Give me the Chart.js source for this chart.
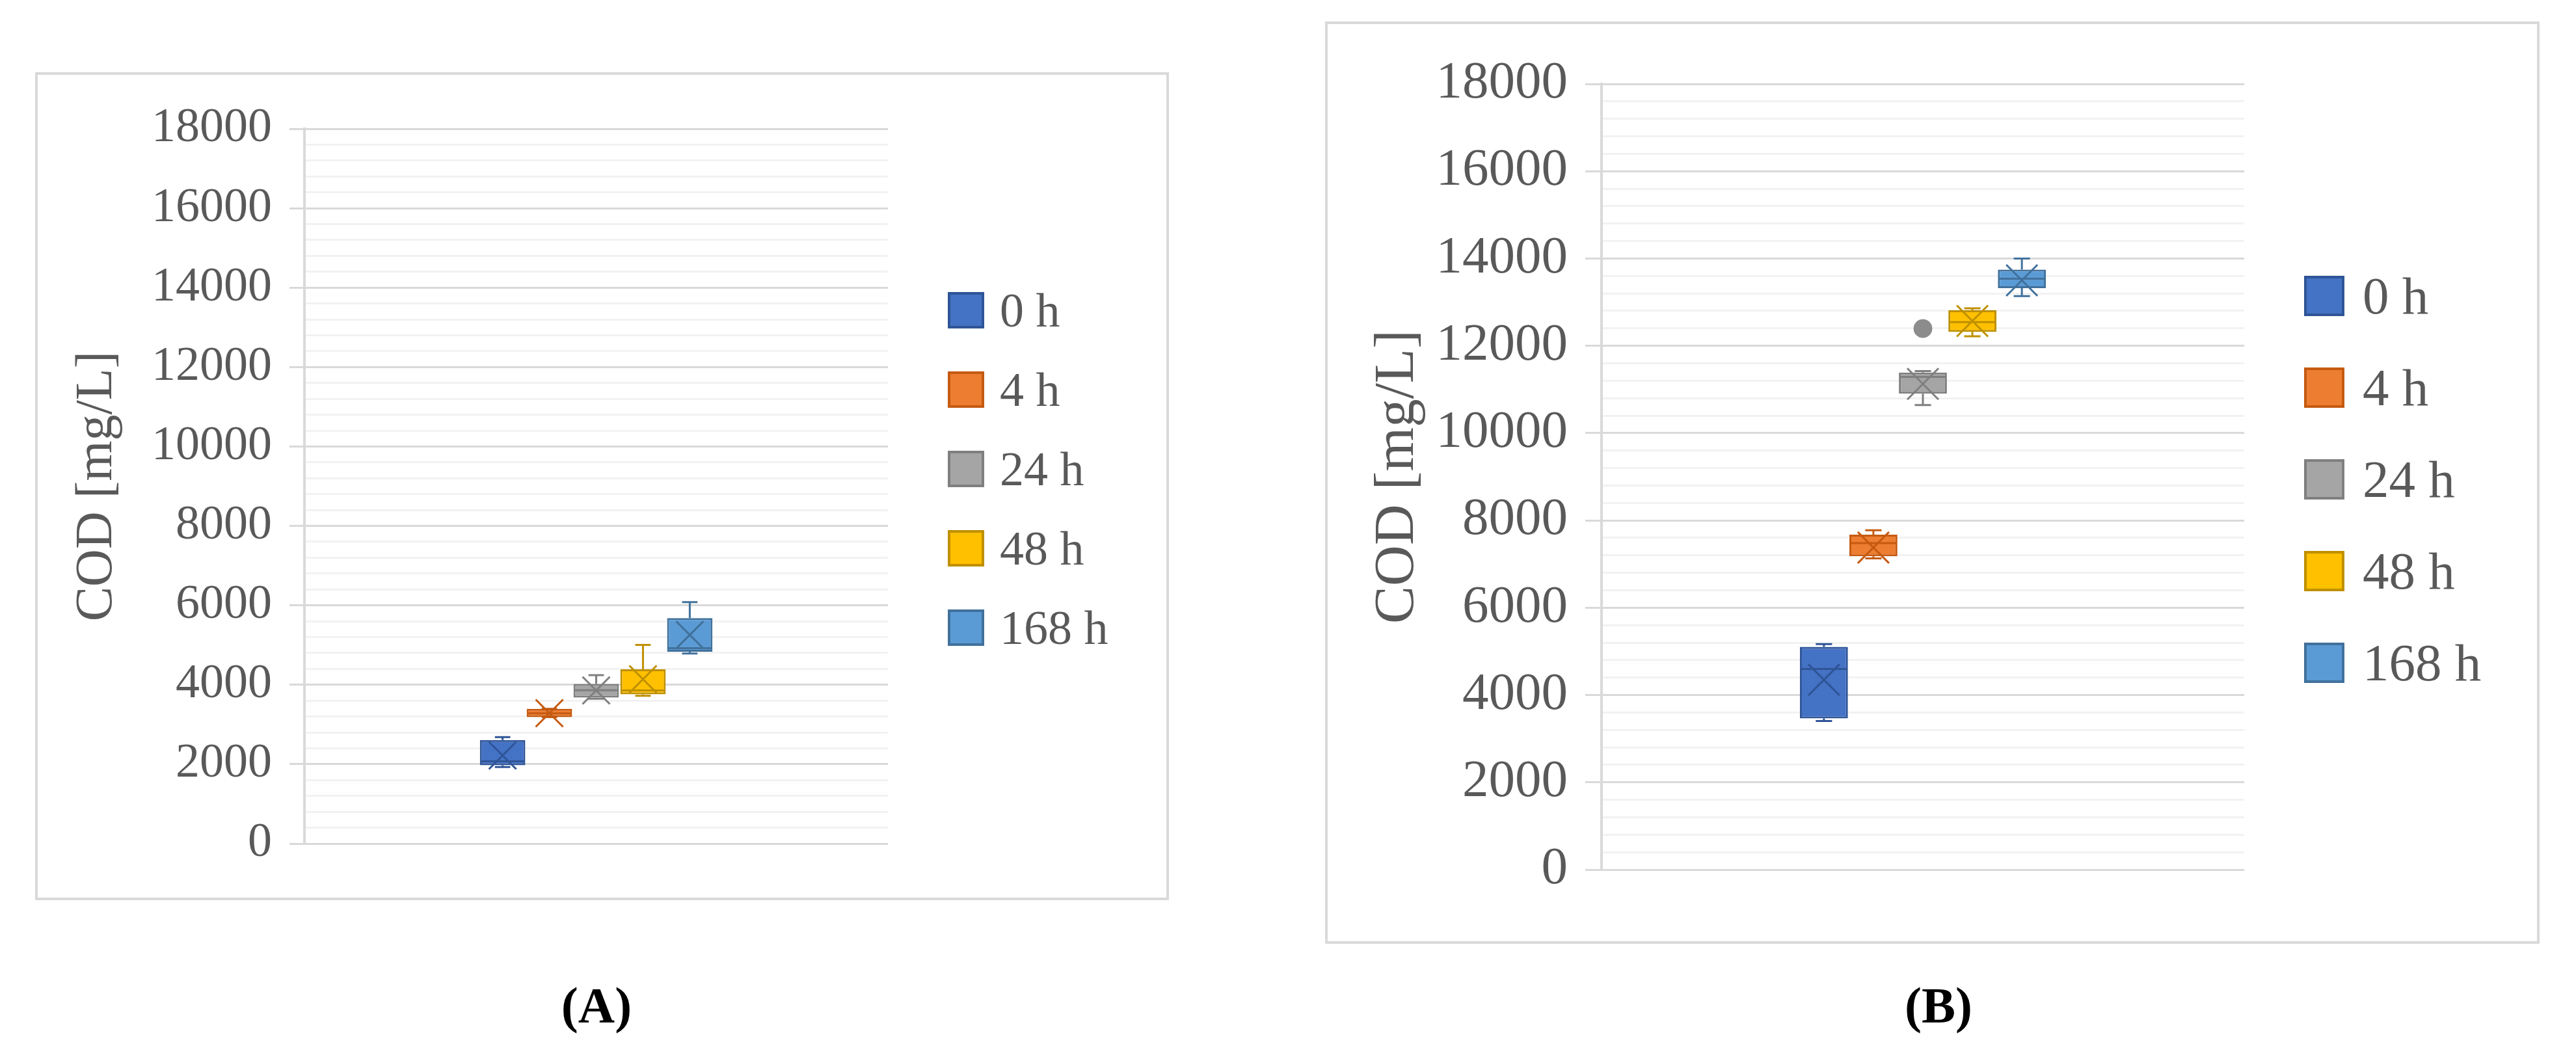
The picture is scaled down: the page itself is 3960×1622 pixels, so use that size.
<!DOCTYPE html>
<html>
<head>
<meta charset="utf-8">
<title>COD box plots</title>
<script src="https://cdn.jsdelivr.net/npm/chart.js@4.4.0/dist/chart.umd.min.js"></script>
<style>
  body { margin: 0; width: 3960px; height: 1622px; background: #fff; position: relative; overflow: hidden; font-family: "Liberation Serif", serif; }
  canvas.panel { position: absolute; outline: 4px solid #d9d9d9; outline-offset: -4px; }
  .legend { position: absolute; color: #595959; width: 400px; }
  .legend .sw { position: absolute; left: 0; box-sizing: border-box; border: 4px solid; }
  .legend .txt { position: absolute; transform: translateY(-50%); line-height: 1; white-space: nowrap; }
  .cap { position: absolute; font-weight: bold; color: #000; transform: translate(-50%, -50%); line-height: 1; white-space: nowrap; }
</style>
</head>
<body>
<canvas id="chartA" class="panel" width="1743" height="1273" style="left:54px;top:111px"></canvas>
<canvas id="chartB" class="panel" width="1867" height="1418" style="left:2037px;top:33px"></canvas>
<div id="legendA" class="legend" style="left:1457px;top:0;font-size:74px"></div>
<div id="legendB" class="legend" style="left:3542px;top:0;font-size:81px"></div>
<div class="cap" style="left:917px;top:1546px;font-size:78px">(A)</div>
<div class="cap" style="left:2980px;top:1546px;font-size:78px">(B)</div>
<script>
// series (sampling times)
var series = ['0 h', '4 h', '24 h', '48 h', '168 h'];
var fillColors = ['#4472C4', '#ED7D31', '#A5A5A5', '#FFC000', '#5B9BD5'];
var lineColors = ['#2F5597', '#C55A11', '#7F7F7F', '#BF9000', '#41719C'];

// y axis
var yMin = 0;
var yMax = 18000;
var yMajor = 2000;
var yMinor = 400;

// panel A - COD [mg/L]
var aMin    = [1930, 3186, 3650, 3720, 4787];
var aQ1     = [1975, 3186, 3678, 3760, 4831];
var aMedian = [2070, 3280, 3860, 3858, 4923];
var aQ3     = [2610, 3393, 4022, 4388, 5678];
var aMax    = [2680, 3393, 4240, 5005, 6082];
var aMean   = [2220, 3284, 3858, 4140, 5255];
var aOutliers = [[], [], [], [], []];

// panel B - COD [mg/L]
var bMin    = [3405, 7130, 10641, 12220, 13140];
var bQ1     = [3464, 7178, 10904, 12320, 13323];
var bMedian = [4597, 7480, 11287, 12544, 13537];
var bQ3     = [5103, 7675, 11386, 12816, 13746];
var bMax    = [5168, 7775, 11420, 12860, 14000];
var bMean   = [4350, 7377, 11128, 12569, 13500];
var bOutliers = [[], [], [12395], [], []];

Chart.defaults.font.family = '"Liberation Serif", serif';
Chart.defaults.color = '#595959';

function boxPlugin(st, markSize) {
  return {
    id: 'boxWhisker',
    afterDatasetsDraw: function(chart) {
      var ys = chart.scales.y;
      var ctx = chart.ctx;
      ctx.save();
      ctx.lineWidth = 3;
      chart.data.datasets.forEach(function(ds, i) {
        var el = chart.getDatasetMeta(i).data[0];
        var cx = el.x, hw = el.width / 2, capW = el.width * 0.17;
        var yq1 = ys.getPixelForValue(st.q1[i]);
        var yq3 = ys.getPixelForValue(st.q3[i]);
        var ymin = ys.getPixelForValue(st.min[i]);
        var ymax = ys.getPixelForValue(st.max[i]);
        var ymed = ys.getPixelForValue(st.median[i]);
        var ymean = ys.getPixelForValue(st.mean[i]);
        ctx.strokeStyle = lineColors[i];
        ctx.beginPath();
        // whiskers
        ctx.moveTo(cx, yq3); ctx.lineTo(cx, ymax);
        ctx.moveTo(cx - capW, ymax); ctx.lineTo(cx + capW, ymax);
        ctx.moveTo(cx, yq1); ctx.lineTo(cx, ymin);
        ctx.moveTo(cx - capW, ymin); ctx.lineTo(cx + capW, ymin);
        // median
        ctx.moveTo(cx - hw + 2, ymed); ctx.lineTo(cx + hw - 2, ymed);
        // mean marker (x)
        ctx.moveTo(cx - markSize, ymean - markSize); ctx.lineTo(cx + markSize, ymean + markSize);
        ctx.moveTo(cx - markSize, ymean + markSize); ctx.lineTo(cx + markSize, ymean - markSize);
        ctx.stroke();
        st.outliers[i].forEach(function(v) {
          ctx.beginPath();
          ctx.fillStyle = '#8c8c8c';
          ctx.arc(cx, ys.getPixelForValue(v), markSize * 0.6, 0, Math.PI * 2);
          ctx.fill();
        });
      });
      ctx.restore();
    }
  };
}

function makeChart(id, st, cfg) {
  var datasets = series.map(function(name, i) {
    return {
      label: name,
      data: [[st.q1[i], st.q3[i]]],
      backgroundColor: fillColors[i],
      borderColor: lineColors[i],
      borderWidth: 3,
      borderSkipped: false,
      categoryPercentage: cfg.catPct,
      barPercentage: 0.97
    };
  });
  return new Chart(document.getElementById(id), {
    type: 'bar',
    data: { labels: [''], datasets: datasets },
    options: {
      responsive: false,
      animation: false,
      devicePixelRatio: 1,
      layout: { padding: cfg.padding },
      plugins: { legend: { display: false }, tooltip: { enabled: false } },
      scales: {
        x: { display: false },
        y: {
          min: yMin,
          max: yMax,
          stacked: false,
          afterFit: function(scale) { scale.width = cfg.axisX - cfg.padding.left; },
          border: { display: true, color: '#d9d9d9', width: 4 },
          grid: {
            color: function(c) { return c.tick.value % yMajor === 0 ? '#d9d9d9' : '#f2f2f2'; },
            tickColor: function(c) { return c.tick.value % yMajor === 0 ? '#d9d9d9' : 'rgba(0,0,0,0)'; },
            lineWidth: 3,
            tickWidth: 3,
            tickLength: cfg.tickLen
          },
          ticks: {
            stepSize: yMinor,
            autoSkip: false,
            padding: 27,
            font: { size: cfg.fontSize },
            callback: function(v) { return v % yMajor === 0 ? String(v) : ''; }
          },
          title: {
            display: true,
            text: 'COD [mg/L]',
            font: { size: cfg.titleSize },
            padding: 4
          }
        }
      }
    },
    plugins: [boxPlugin(st, cfg.markSize)]
  });
}

function makeLegend(id, top, step, sw, textLeft) {
  var box = document.getElementById(id);
  series.forEach(function(name, i) {
    var cy = top + i * step;
    var s = document.createElement('span');
    s.className = 'sw';
    s.style.cssText = 'top:' + (cy - sw / 2) + 'px;width:' + sw + 'px;height:' + sw + 'px;background:' + fillColors[i] + ';border-color:' + lineColors[i];
    box.appendChild(s);
    var t = document.createElement('span');
    t.className = 'txt';
    t.style.cssText = 'top:' + cy + 'px;left:' + textLeft + 'px';
    t.textContent = name;
    box.appendChild(t);
  });
}

makeChart('chartA',
  { min: aMin, q1: aQ1, median: aMedian, q3: aQ3, max: aMax, mean: aMean, outliers: aOutliers },
  { padding: { left: 44, right: 432, top: 87, bottom: 87 }, axisX: 414, tickLen: 23, fontSize: 74, titleSize: 80, catPct: 0.401, markSize: 21 });

makeChart('chartB',
  { min: bMin, q1: bQ1, median: bMedian, q3: bQ3, max: bMax, mean: bMean, outliers: bOutliers },
  { padding: { left: 56, right: 454, top: 96, bottom: 114 }, axisX: 425, tickLen: 25, fontSize: 81, titleSize: 87, catPct: 0.385, markSize: 24 });

makeLegend('legendA', 477, 122, 56, 80);
makeLegend('legendB', 455, 141, 62, 90);
</script>
</body>
</html>
